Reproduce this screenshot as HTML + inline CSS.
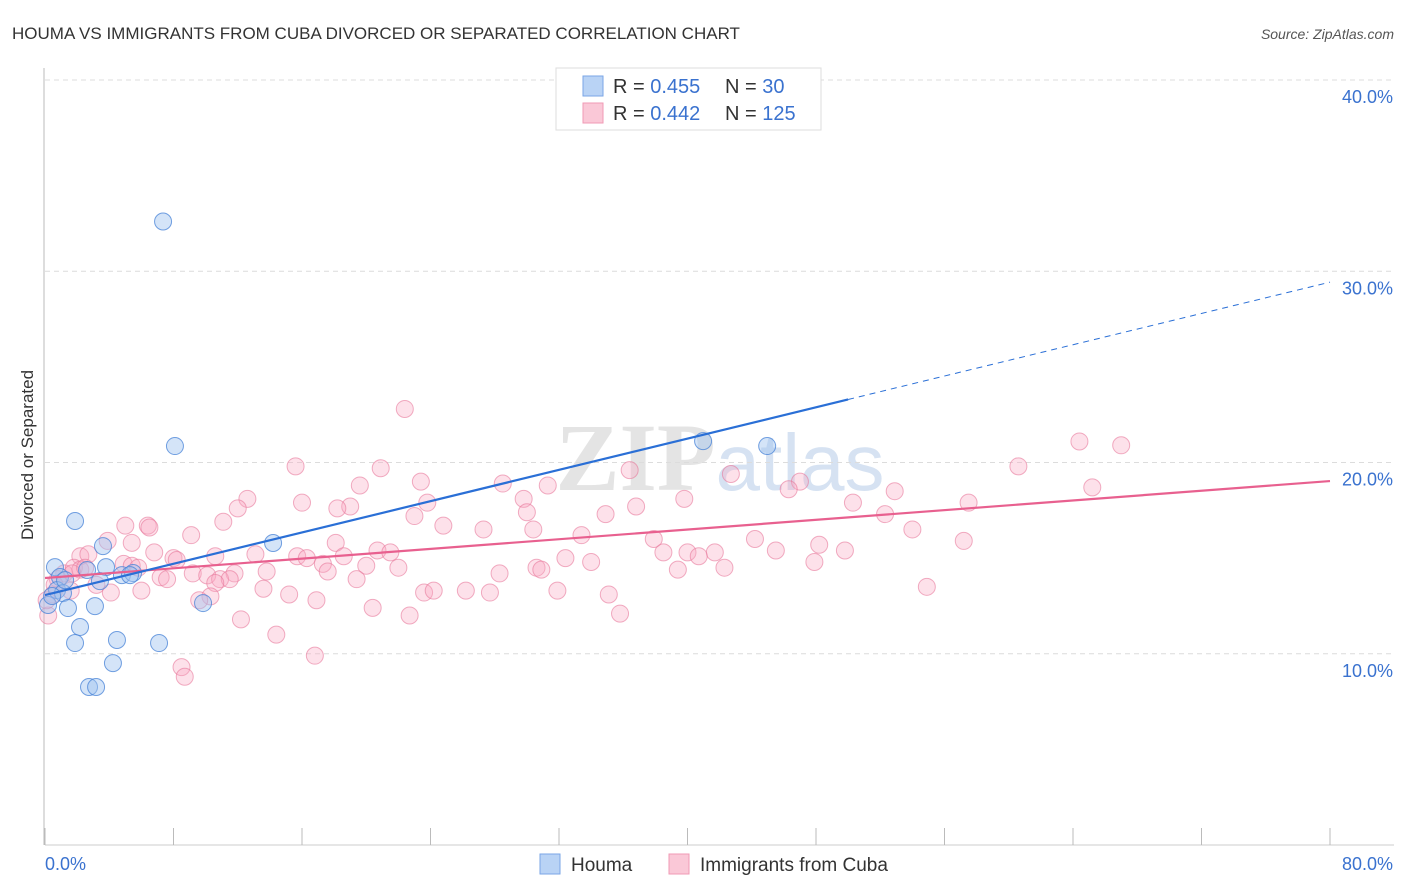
<!DOCTYPE html>
<html><head><meta charset="utf-8"><style>
body{margin:0;background:#fff;font-family:"Liberation Sans",sans-serif}
svg{display:block}
</style></head><body>
<svg id="chart" width="1406" height="892" xmlns="http://www.w3.org/2000/svg" font-family="Liberation Sans, sans-serif">
<text x="12" y="39" font-size="17" fill="#333">HOUMA VS IMMIGRANTS FROM CUBA DIVORCED OR SEPARATED CORRELATION CHART</text>
<text x="1394" y="39" font-size="14" fill="#555" font-style="italic" text-anchor="end">Source: ZipAtlas.com</text>
<text x="720" y="490" font-size="96" fill="#e4e4e4" text-anchor="middle" font-family="Liberation Serif, serif" font-weight="bold">ZIP<tspan fill="#d6e2f2" font-family="Liberation Sans, sans-serif" font-weight="normal" font-size="80">atlas</tspan></text>
<g id="grid"></g>
<g id="axes"></g>
<g id="marks"></g>
<text transform="translate(33,455) rotate(-90)" font-size="17" fill="#333" text-anchor="middle">Divorced or Separated</text>
<g>
<rect x="556" y="68" width="265" height="62" fill="#fff" stroke="#ddd"/>
<rect x="583" y="76" width="20" height="20" fill="#b9d3f5" stroke="#7aa6e6"/>
<rect x="583" y="103" width="20" height="20" fill="#fac8d7" stroke="#f09ab4"/>
<text x="613" y="93" font-size="20" fill="#333">R = <tspan fill="#3a72cf">0.455</tspan></text>
<text x="725" y="93" font-size="20" fill="#333">N = <tspan fill="#3a72cf"> 30</tspan></text>
<text x="613" y="120" font-size="20" fill="#333">R = <tspan fill="#3a72cf">0.442</tspan></text>
<text x="725" y="120" font-size="20" fill="#333">N = <tspan fill="#3a72cf">125</tspan></text>
</g>
<g>
<rect x="540" y="854" width="20" height="20" fill="#b9d3f5" stroke="#7aa6e6"/>
<text x="571" y="871" font-size="19" fill="#333">Houma</text>
<rect x="669" y="854" width="20" height="20" fill="#fac8d7" stroke="#f09ab4"/>
<text x="700" y="871" font-size="19" fill="#333">Immigrants from Cuba</text>
</g>
</svg>
<script>
const yTicks=[10,20,30,40];
const yTickLabels=["10.0%","20.0%","30.0%","40.0%"];
const xTicks=[0,8,16,24,32,40,48,56,64,72,80];
const xEndLabels=["0.0%","80.0%"];
const houmaX=[7.35,8.09,40.97,44.96,1.87,3.61,14.2,0.62,2.62,3.8,4.79,5.48,0.93,3.42,0.75,1.12,0.19,1.43,3.11,9.84,2.18,1.87,4.48,7.1,4.23,2.74,3.18,0.44,5.29,1.25];
const houmaY=[32.6,20.86,21.12,20.86,16.94,15.63,15.79,14.53,14.38,14.53,14.11,14.22,14.01,13.8,13.33,13.17,12.55,12.39,12.49,12.65,11.4,10.56,10.72,10.56,9.51,8.26,8.26,13.02,14.11,13.85];
const cubaX=[22.4,64.4,67.0,15.6,20.9,60.6,36.4,42.7,23.4,47.0,28.5,19.6,31.3,65.2,46.3,12.6,29.8,39.8,52.9,23.8,19.0,50.3,57.5,12.0,16.0,18.2,36.8,23.0,34.9,52.3,30.0,11.1,24.8,27.3,30.4,5.0,6.4,6.5,9.1,54.0,33.4,44.2,57.2,3.9,5.4,18.1,37.9,48.2,49.8,45.5,38.5,40.0,41.7,40.7,13.1,10.6,8.0,8.2,15.7,6.8,2.2,2.7,20.7,21.5,16.3,18.6,32.4,34.0,17.3,17.6,20.0,22.0,4.9,5.4,5.8,1.2,1.8,2.2,39.4,42.3,47.9,30.6,30.9,28.3,9.2,10.1,11.8,13.8,7.2,7.6,10.9,11.5,10.6,19.4,3.2,4.1,6.0,13.6,15.2,10.3,9.6,16.9,26.2,27.7,31.9,23.6,24.2,20.4,22.7,35.8,35.1,54.9,12.2,14.4,16.8,8.5,8.7,0.5,0.2,0.1,1.6,0.8,1.7,2.5,0.6];
const cubaY=[22.8,21.1,20.9,19.8,19.7,19.8,19.6,19.4,19.0,19.0,18.9,18.8,18.8,18.7,18.6,18.1,18.1,18.1,18.5,17.9,17.7,17.9,17.9,17.6,17.9,17.6,17.7,17.2,17.3,17.3,17.4,16.9,16.7,16.5,16.5,16.7,16.7,16.6,16.2,16.5,16.2,16.0,15.9,15.9,15.8,15.8,16.0,15.7,15.4,15.4,15.3,15.3,15.3,15.1,15.2,15.1,15.0,14.9,15.1,15.3,15.1,15.2,15.4,15.3,15.0,15.1,15.0,14.8,14.7,14.3,14.6,14.5,14.7,14.6,14.5,14.2,14.5,14.4,14.4,14.5,14.8,14.5,14.4,14.2,14.2,14.1,14.2,14.3,14.0,13.9,13.9,13.9,13.7,13.9,13.6,13.2,13.3,13.4,13.1,13.0,12.8,12.8,13.3,13.2,13.3,13.2,13.3,12.4,12.0,12.1,13.1,13.5,11.8,11.0,9.9,9.3,8.8,13.1,12.0,12.8,13.3,13.9,14.2,14.5,13.6];
const houmaTrend=[13.07,29.43]; // y at x=0 and x=80
const houmaSolidEnd=50;
const cubaTrend=[13.96,19.03];

const X0=45,X1=1330,Y0=845,Y40=80;
const sx=v=>X0+(v/80)*(X1-X0);
const sy=v=>Y0-(v/40)*(Y0-Y40);
const NS="http://www.w3.org/2000/svg";
function mk(tag,attrs,parent){const e=document.createElementNS(NS,tag);for(const k in attrs)e.setAttribute(k,attrs[k]);parent.appendChild(e);return e;}
const grid=document.getElementById('grid'),axes=document.getElementById('axes'),marks=document.getElementById('marks');
yTicks.forEach((t,i)=>{
  const l=mk('line',{x1:X0,x2:1394,y1:sy(t),y2:sy(t),stroke:'#dcdcdc','stroke-dasharray':'5,4'},grid);
  
  
  const tx=mk('text',{x:1393,y:sy(t)+23,'font-size':18,fill:'#3a72cf','text-anchor':'end'},axes);
  tx.textContent=yTickLabels[i];
  
  
});
const yl=mk('line',{x1:44,x2:44,y1:68,y2:Y0,stroke:'#bbb'},axes);


const xl=mk('line',{x1:X0,x2:1394,y1:Y0,y2:Y0,stroke:'#ccc'},axes);


xTicks.forEach(t=>{
  const l=mk('line',{x1:sx(t),x2:sx(t),y1:828,y2:Y0,stroke:'#bbb'},axes);
  
  
});
const xa=mk('text',{x:45,y:870,'font-size':18,fill:'#3a72cf'},axes);xa.textContent=xEndLabels[0];


const xb=mk('text',{x:1393,y:870,'font-size':18,fill:'#3a72cf','text-anchor':'end'},axes);xb.textContent=xEndLabels[1];



cubaX.forEach((x,i)=>{
  const c=mk('circle',{cx:sx(x),cy:sy(cubaY[i]),r:8.5,fill:'rgba(248,170,195,0.35)',stroke:'rgba(232,120,155,0.6)','stroke-width':1},marks);
  
  
});
houmaX.forEach((x,i)=>{
  const c=mk('circle',{cx:sx(x),cy:sy(houmaY[i]),r:8.5,fill:'rgba(160,195,240,0.45)',stroke:'rgba(70,130,215,0.75)','stroke-width':1},marks);
  
  
});
const hy=x=>houmaTrend[0]+(houmaTrend[1]-houmaTrend[0])*x/80;
const cy=x=>cubaTrend[0]+(cubaTrend[1]-cubaTrend[0])*x/80;
const ct=mk('line',{x1:sx(0),y1:sy(cy(0)),x2:sx(80),y2:sy(cy(80)),stroke:'#e8608f','stroke-width':2.2},marks);


const ht=mk('line',{x1:sx(0),y1:sy(hy(0)),x2:sx(houmaSolidEnd),y2:sy(hy(houmaSolidEnd)),stroke:'#2a6fd6','stroke-width':2.2},marks);


const hd=mk('line',{x1:sx(houmaSolidEnd),y1:sy(hy(houmaSolidEnd)),x2:sx(80),y2:sy(hy(80)),stroke:'#2a6fd6','stroke-width':1,'stroke-dasharray':'6,5'},marks);


</script>
</body></html>
